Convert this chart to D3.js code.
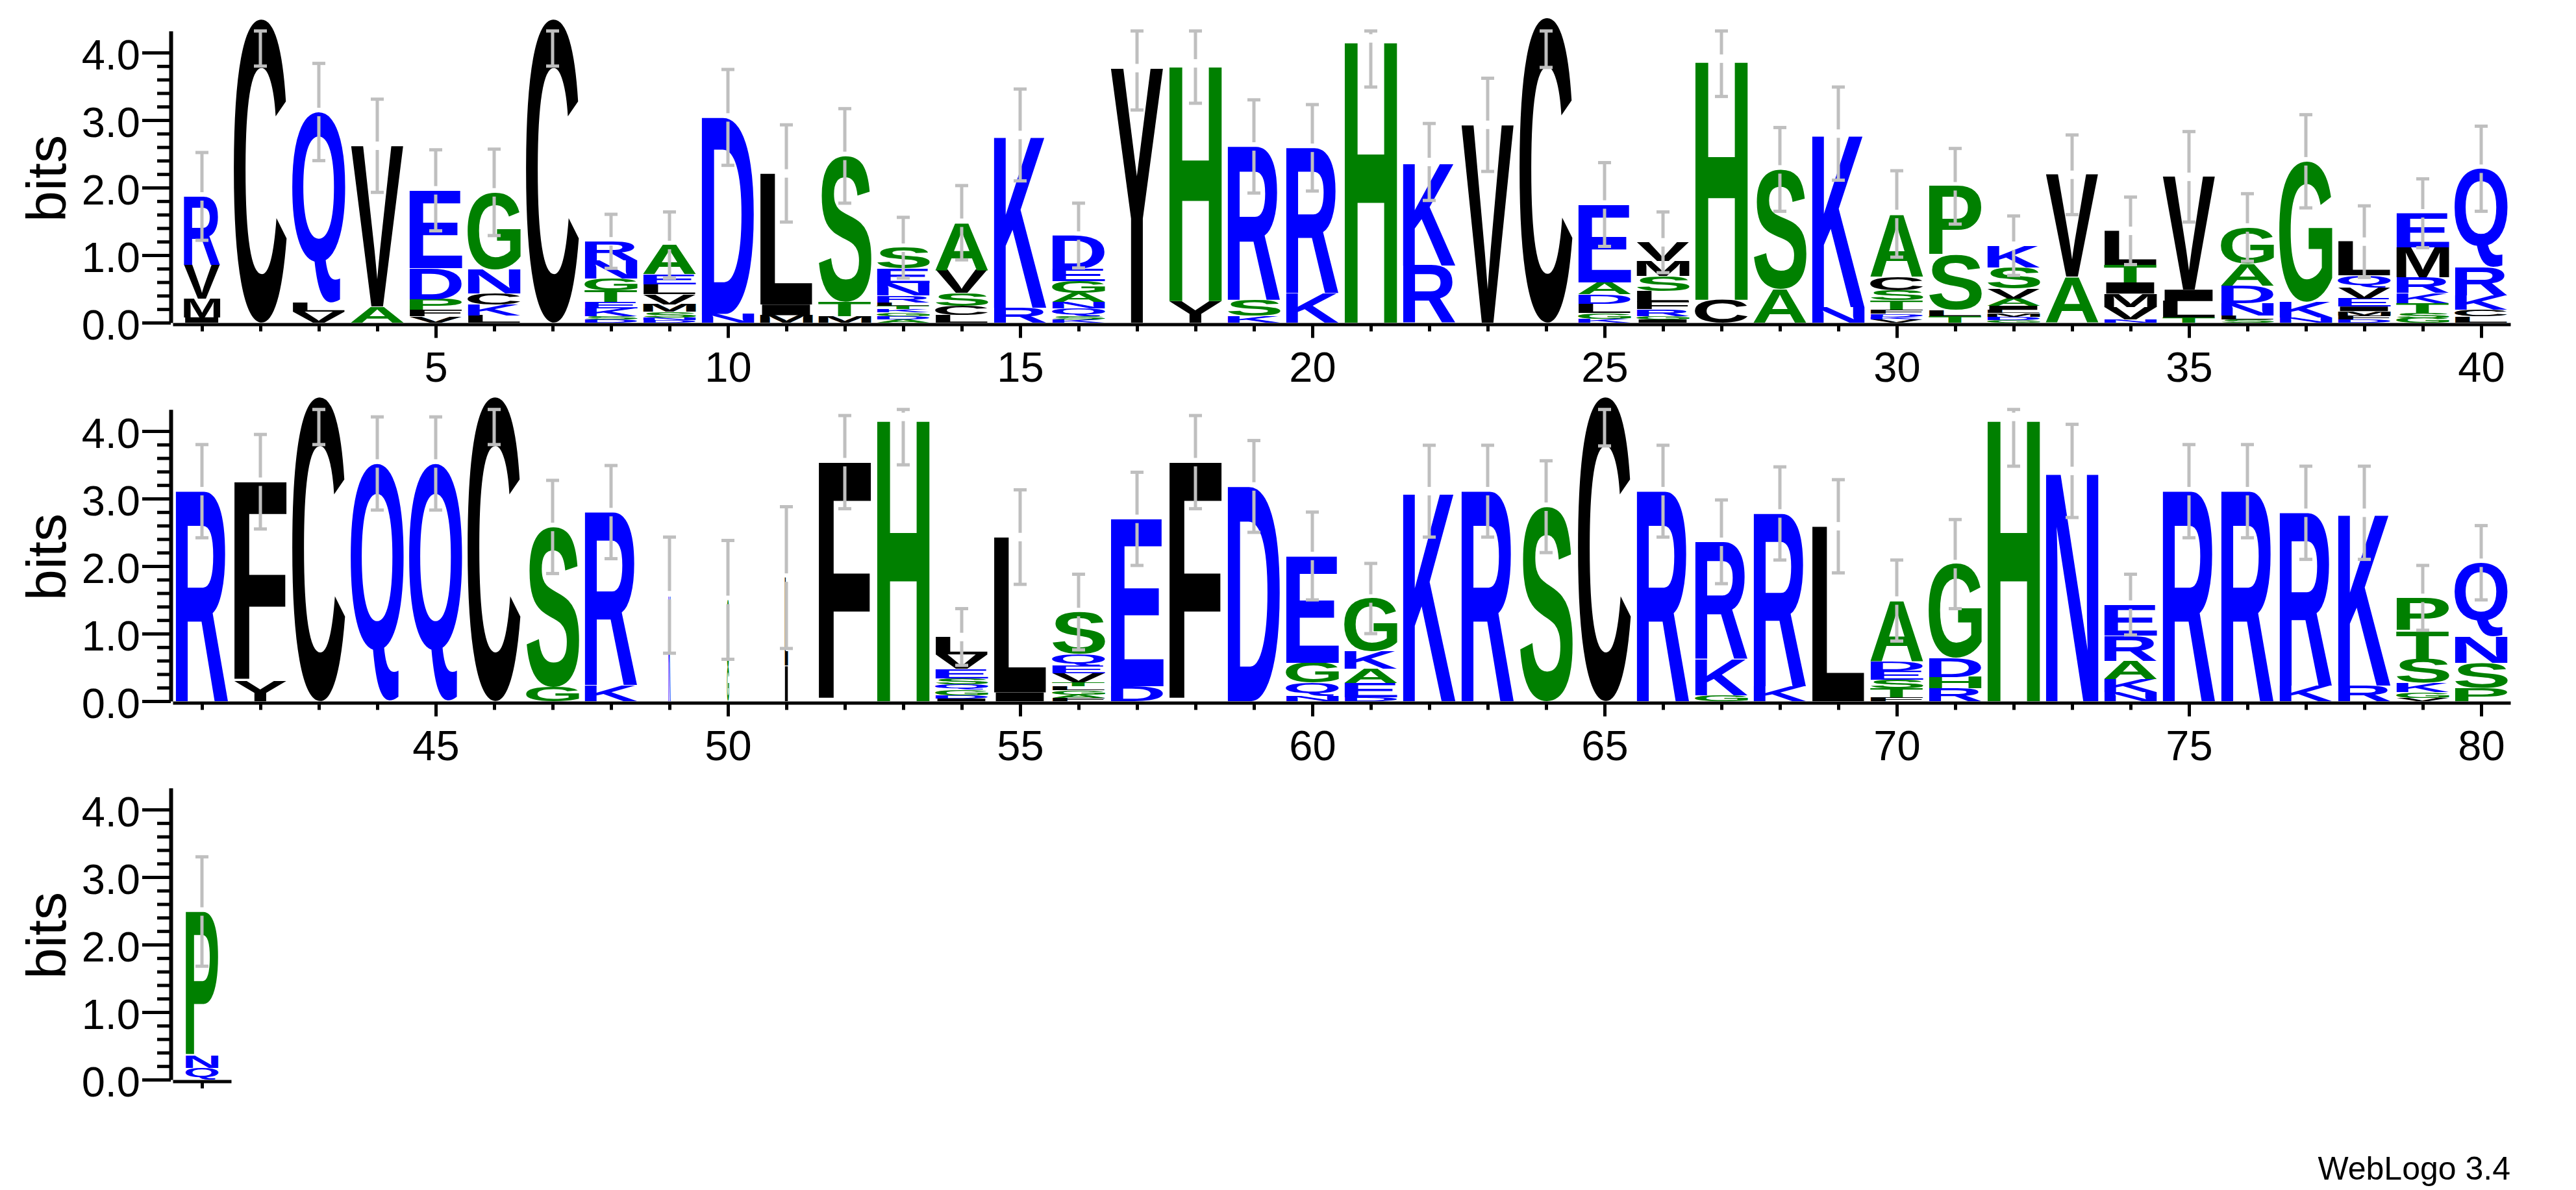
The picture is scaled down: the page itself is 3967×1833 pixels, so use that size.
<!DOCTYPE html>
<html>
<head>
<meta charset="utf-8">
<script src="https://cdn.jsdelivr.net/npm/d3@7"></script>
<style>
  html, body { margin: 0; padding: 0; background: #fff; }
  svg { display: block; }
</style>
</head>
<body>
<div id="logo"></div>
<script>
// Sequence logo, values (bits per letter, top letter first)
const positions = d3.range(1, 82);

const stackLetters = [
  'RVMI', 'C', 'QLV', 'VA', 'EDPFV', 'GNCKL', 'C', 'RNGTEKSD', 'AELVMSND', 'DN',
  'LIM', 'STM', 'SENRLTKGDA', 'AVSCL', 'KR', 'DEGANQSK', 'Y', 'HY', 'RSK', 'RK',
  'H', 'KR', 'V', 'C', 'EADLGK', 'VMSLFRGI', 'HC', 'SA', 'KN', 'ACSTFDKV',
  'PSLT', 'KSVAILMDG', 'VA', 'LTIMVN', 'VILT', 'GADNLS', 'GKN', 'LQVEIMFD', 'EMRKTSG', 'QRKCL',
  'R', 'FY', 'C', 'Q', 'Q', 'C', 'SG', 'RK', 'K', 'SG',
  'LI', 'F', 'H', 'LVESQGDI', 'LI', 'SQEVTLGAF', 'ED', 'F', 'D', 'EGQN',
  'GKAED', 'K', 'R', 'S', 'C', 'R', 'RKG', 'RK', 'L', 'ADESTF',
  'GDHR', 'H', 'N', 'ERAKN', 'R', 'R', 'RK', 'KR', 'PTSKGV', 'QNSP',
  'PNQ'
];

const stackBits = [
  [1.01, 0.50, 0.28, 0.08], [4.50], [2.83, 0.13, 0.16], [2.38, 0.24],
  [1.15, 0.46, 0.16, 0.10, 0.09], [1.14, 0.36, 0.16, 0.16, 0.11], [4.50],
  [0.285, 0.27, 0.17, 0.17, 0.10, 0.11, 0.05, 0.05],
  [0.43, 0.15, 0.15, 0.15, 0.11, 0.08, 0.04, 0.04], [2.91, 0.13],
  [1.94, 0.16, 0.11], [2.16, 0.21, 0.10],
  [0.31, 0.21, 0.19, 0.10, 0.05, 0.05, 0.05, 0.05, 0.05, 0.05],
  [0.70, 0.34, 0.19, 0.14, 0.11], [2.56, 0.22],
  [0.49, 0.18, 0.18, 0.13, 0.10, 0.11, 0.05, 0.05], [3.77], [3.52, 0.32],
  [2.27, 0.24, 0.10], [2.15, 0.44],
  [4.21], [1.53, 0.85], [2.93], [4.52], [1.15, 0.18, 0.14, 0.14, 0.08, 0.06],
  [0.28, 0.22, 0.22, 0.16, 0.11, 0.10, 0.05, 0.05], [3.57, 0.34], [1.77, 0.50],
  [2.57, 0.23], [0.93, 0.20, 0.15, 0.14, 0.06, 0.04, 0.04, 0.05],
  [1.02, 0.81, 0.09, 0.10], [0.32, 0.31, 0.15, 0.11, 0.06, 0.05, 0.05, 0.05, 0.04],
  [1.51, 0.68], [0.50, 0.26, 0.17, 0.20, 0.18, 0.05], [1.67, 0.17, 0.24, 0.08],
  [0.53, 0.33, 0.26, 0.18, 0.06, 0.05], [2.08, 0.23, 0.08],
  [0.50, 0.18, 0.16, 0.12, 0.07, 0.06, 0.06, 0.05],
  [0.50, 0.45, 0.23, 0.15, 0.15, 0.07, 0.07], [1.46, 0.42, 0.21, 0.10, 0.09],
  [3.11], [2.96, 0.29], [4.51], [3.52], [3.52], [4.51], [2.37, 0.21], [2.56, 0.24],
  [1.57], [1.00, 0.50],
  [1.30, 0.53], [3.54], [4.21], [0.26, 0.21, 0.14, 0.09, 0.08, 0.08, 0.05, 0.04],
  [2.30, 0.13], [0.62, 0.18, 0.11, 0.13, 0.06, 0.06, 0.06, 0.05, 0.05],
  [2.48, 0.22], [3.54], [3.18], [1.58, 0.30, 0.19, 0.08],
  [0.78, 0.26, 0.21, 0.21, 0.06], [3.11], [3.11], [2.88], [4.51], [3.11],
  [1.73, 0.54, 0.09], [2.56, 0.22], [2.59], [0.90, 0.14, 0.13, 0.13, 0.13, 0.06],
  [1.39, 0.28, 0.17, 0.19], [4.21], [3.41], [0.46, 0.37, 0.27, 0.20, 0.13],
  [3.11], [3.11], [2.56, 0.23], [2.56, 0.23], [0.48, 0.43, 0.35, 0.14, 0.08, 0.05],
  [1.09, 0.39, 0.37, 0.20],
  [2.14, 0.18, 0.17]
];

// half length of each error bar, in bits
const errorBits = [
  0.65, 0.70, 0.72, 0.69, 0.60, 0.64, 0.70, 0.40, 0.49, 0.71,
  0.72, 0.70, 0.45, 0.55, 0.68, 0.48, 0.62, 0.59, 0.69, 0.64,
  0.72, 0.57, 0.69, 0.74, 0.62, 0.45, 0.56, 0.62, 0.69, 0.64,
  0.56, 0.44, 0.59, 0.50, 0.67, 0.50, 0.69, 0.53, 0.51, 0.63,
  0.69, 0.70, 0.71, 0.69, 0.69, 0.71, 0.69, 0.69, 0.86, 0.88,
  1.05, 0.69, 0.71, 0.42, 0.70, 0.56, 0.69, 0.69, 0.68, 0.65,
  0.52, 0.68, 0.68, 0.68, 0.73, 0.68, 0.62, 0.69, 0.69, 0.60,
  0.66, 0.73, 0.69, 0.45, 0.69, 0.69, 0.69, 0.69, 0.48, 0.55,
  0.81
];

// stack width as a fraction of a full column (gappy columns are narrow)
const stackWidth = positions.map(() => 1);
stackWidth[0] = 0.69;
stackWidth[48] = 0.04;
stackWidth[49] = 0.04;
stackWidth[50] = 0.06;
stackWidth[80] = 0.62;

const yMajor = [0, 1, 2, 3, 4];
const yTickLabels = ['0.0', '1.0', '2.0', '3.0', '4.0'];
const yMinor = d3.range(0, 21).map((i) => i * 0.2).filter((v) => v < 4.3);
const rows = [
  { start: 1, end: 40 },
  { start: 41, end: 80 },
  { start: 81, end: 81 }
];

const W = 3967;
const H = 1833;
const rowBase = [497, 1080, 1663];
const colW = 90;
const glyphW = 82;
const bitsMax = 4.32;
const bitPx = 104;
const fontFamily = '"Liberation Sans", Arial, Helvetica, sans-serif';

const colorOf = (ch) => {
  if ('RKDENQ'.includes(ch)) return '#0000ff';
  if ('SGHTAP'.includes(ch)) return '#008000';
  return '#000000';
};

// ink box of each glyph, so a letter can be stretched to fill its slot
const ctx = document.createElement('canvas').getContext('2d');
ctx.font = `bold 100px ${fontFamily}`;
const boxes = {};
function glyphBox(ch) {
  if (!boxes[ch]) {
    const m = ctx.measureText(ch);
    boxes[ch] = {
      l: m.actualBoundingBoxLeft,
      r: m.actualBoundingBoxRight,
      a: m.actualBoundingBoxAscent,
      d: m.actualBoundingBoxDescent
    };
  }
  return boxes[ch];
}

const svg = d3
  .select('#logo')
  .append('svg')
  .attr('width', W)
  .attr('height', H)
  .attr('role', 'img')
  .attr('aria-label', 'Sequence logo');

rows.forEach((row, r) => {
  const n = row.end - row.start + 1;
  const x = d3
    .scaleLinear()
    .domain([row.start - 0.5, row.end + 0.5])
    .range([266, 266 + n * colW]);
  const y = d3
    .scaleLinear()
    .domain([0, bitsMax])
    .range([rowBase[r], rowBase[r] - bitsMax * bitPx]);

  const g = svg.append('g');
  const rowPos = positions.filter((p) => p >= row.start && p <= row.end);

  // letter stacks
  rowPos.forEach((p) => {
    const i = p - 1;
    const letters = stackLetters[i].split('');
    const bits = stackBits[i];
    const w = glyphW * stackWidth[i];
    const x0 = x(p) - w / 2;
    let cum = 0;
    for (let k = letters.length - 1; k >= 0; k--) {
      const ch = letters[k];
      const top = y(cum + bits[k]);
      const hpx = y(cum) - top;
      cum += bits[k];
      const b = glyphBox(ch);
      const sx = w / (b.l + b.r);
      const sy = hpx / (b.a + b.d);
      g.append('text')
        .text(ch)
        .attr('font-family', fontFamily)
        .attr('font-weight', 'bold')
        .attr('font-size', 100)
        .attr('fill', colorOf(ch))
        .attr('transform', `translate(${x0},${top}) scale(${sx},${sy}) translate(${b.l},${b.a})`);
    }
  });

  // error bars
  const bar = g.append('g').attr('stroke', '#bfbfbf').attr('stroke-width', 5).attr('fill', 'none');
  rowPos.forEach((p) => {
    const i = p - 1;
    const h = d3.sum(stackBits[i]);
    const e = errorBits[i];
    const yt = y(Math.min(h + e, bitsMax));
    const yb = y(h - e);
    const cx = x(p);
    if (h < bitsMax) {
      bar.append('line').attr('x1', cx).attr('x2', cx).attr('y1', yt).attr('y2', y(h) - 6.5);
      bar.append('line').attr('x1', cx).attr('x2', cx).attr('y1', y(h) + 6.5).attr('y2', yb);
    } else {
      bar.append('line').attr('x1', cx).attr('x2', cx).attr('y1', yt).attr('y2', yb);
    }
    [yt, yb].forEach((yy) => {
      bar.append('line').attr('x1', cx - 10).attr('x2', cx + 10).attr('y1', yy).attr('y2', yy);
    });
  });

  // y axis
  const yAxis = g
    .append('g')
    .attr('transform', 'translate(263,0)')
    .call(
      d3.axisLeft(y)
        .tickValues(yMajor)
        .tickFormat((d, k) => yTickLabels[k])
        .tickSize(44)
        .tickPadding(3)
        .tickSizeOuter(0)
    );
  yAxis.select('.domain').attr('stroke-width', 6);
  yAxis.selectAll('.tick line').attr('stroke-width', 5);
  yAxis
    .selectAll('.tick text')
    .attr('font-family', fontFamily)
    .attr('font-size', 65)
    .attr('dy', '0.39em');

  const yMinorAxis = g
    .append('g')
    .attr('transform', 'translate(263,0)')
    .call(d3.axisLeft(y).tickValues(yMinor).tickFormat('').tickSize(21).tickSizeOuter(0));
  yMinorAxis.select('.domain').remove();
  yMinorAxis.selectAll('.tick line').attr('stroke-width', 5);

  // x axis
  const xAxis = g
    .append('g')
    .attr('transform', `translate(0,${rowBase[r] + 2.5})`)
    .call(d3.axisBottom(x).tickValues(rowPos).tickFormat('').tickSize(11).tickSizeOuter(0));
  xAxis.select('.domain').attr('stroke-width', 5);
  xAxis.selectAll('.tick line').attr('stroke-width', 5);

  const xMajor = g
    .append('g')
    .attr('transform', `translate(0,${rowBase[r] + 2.5})`)
    .call(
      d3.axisBottom(x)
        .tickValues(rowPos.filter((p) => p % 5 === 0))
        .tickSize(21)
        .tickPadding(21)
        .tickSizeOuter(0)
    );
  xMajor.select('.domain').remove();
  xMajor.selectAll('.tick line').attr('stroke-width', 5);
  xMajor.selectAll('.tick text').attr('font-family', fontFamily).attr('font-size', 65);

  // axis title
  const ty = rowBase[r] - 222;
  g.append('text')
    .attr('transform', `translate(101,${ty}) rotate(-90)`)
    .attr('text-anchor', 'middle')
    .attr('font-family', fontFamily)
    .attr('font-size', 86)
    .text('bits');
});

svg
  .append('text')
  .attr('x', 3866)
  .attr('y', 1817)
  .attr('text-anchor', 'end')
  .attr('font-family', fontFamily)
  .attr('font-size', 50)
  .text('WebLogo 3.4');
</script>
</body>
</html>
